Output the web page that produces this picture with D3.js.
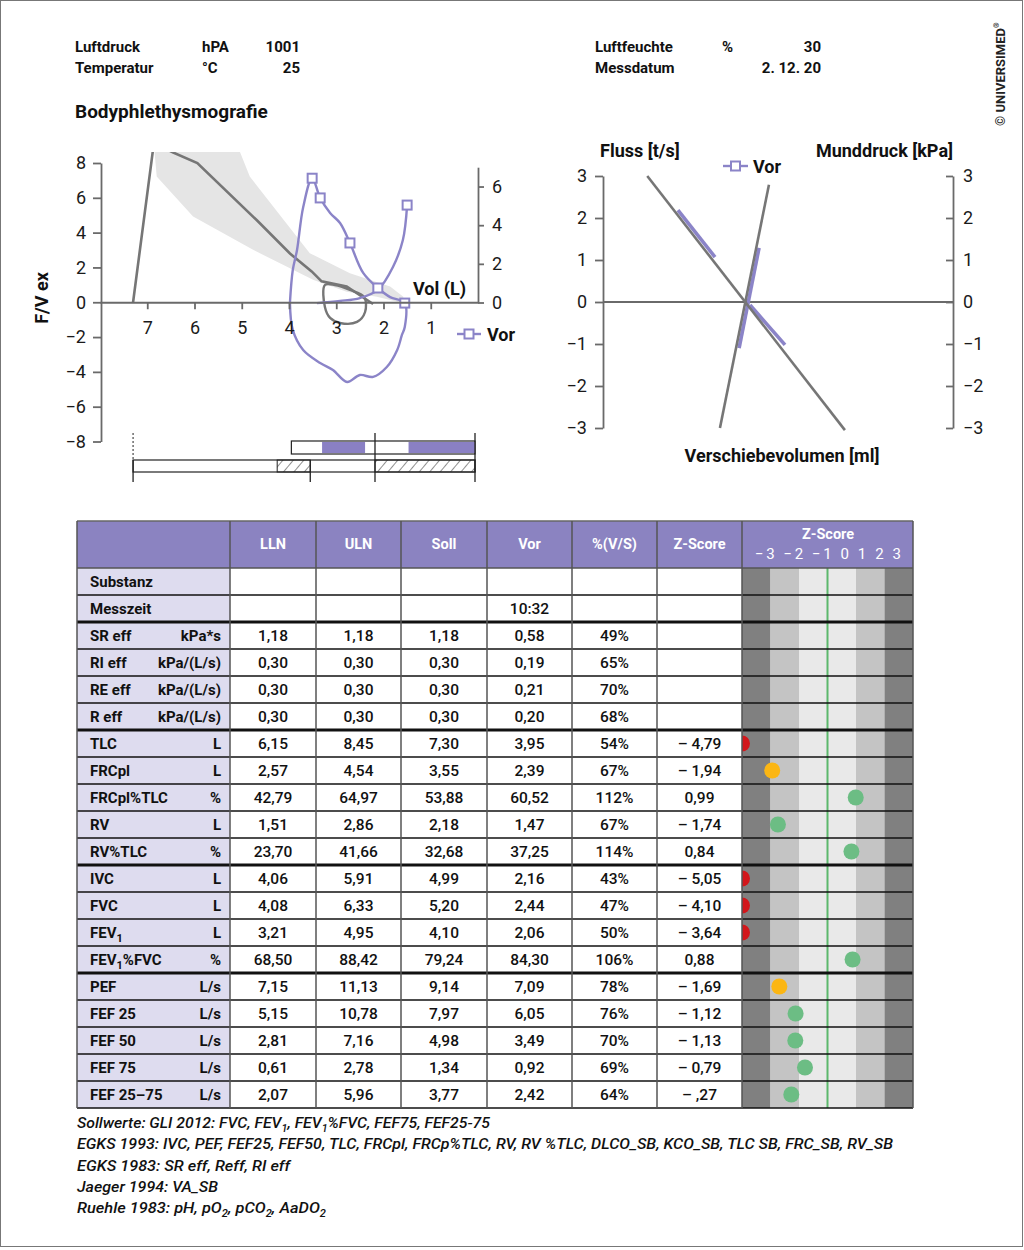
<!DOCTYPE html>
<html><head><meta charset="utf-8">
<script src="https://cdn.jsdelivr.net/npm/d3@7/dist/d3.min.js"></script>
<style>
body{margin:0;background:#fff;}
svg text{font-family:Roboto,"Open Sans","DejaVu Sans",sans-serif;}
</style></head><body>
<svg id="chart" width="1024" height="1250"></svg>
<script>
// ================= DATA =================
const headerLabels = ["Luftdruck","Temperatur","Luftfeuchte","Messdatum"];
const headerUnits  = ["hPA","°C","%",""];
const headerValues = ["1001","25","30","2. 12. 20"];
const sectionTitle = "Bodyphlethysmografie";

// Flow-volume chart
const fvXTicks  = [7,6,5,4,3,2,1];
const fvYTicks  = [-8,-6,-4,-2,0,2,4,6,8];
const fvY2Ticks = [0,2,4,6];
// predicted curve [volume L, flow L/s]
const predCurve = [[7.30,0],[6.86,9.14],[6.45,8.6],[5.94,8.0],[4.68,4.71],[3.98,2.80],[3.52,1.77],[3.31,1.20],[2.78,0.91],[2.22,-0.1]];
const predLoop  = [[3.24,0.99],[3.24,-0.27],[3.13,-0.90],[2.92,-1.19],[2.56,-1.13],[2.39,-0.56],[2.41,0.30],[2.71,0.71],[3.03,0.99]];
// normal range band
const bandUpper = [[6.90,9.4],[5.15,9.4],[4.83,7.22],[3.56,2.82],[2.71,1.67],[1.86,0.90],[1.58,0.32]];
const bandLower = [[6.87,9.4],[6.80,7.22],[6.03,4.92],[4.76,3.01],[3.48,1.28],[2.78,0.61],[2.14,0.32],[1.58,-0.06]];
// measured "Vor" loop [volume L, value on right axis]
const vorLoop = [[3.98,0],[3.92,1.68],[3.83,2.72],[3.70,4.93],[3.51,6.43],[3.34,5.41],[3.13,4.63],[2.92,4.11],[2.71,3.08],[2.43,1.53],[2.12,0.75],[1.86,0.28],[1.55,-0.03],[1.55,-1.27],[1.61,-1.68],[1.71,-2.46],[1.93,-3.34],[2.22,-3.85],[2.50,-3.75],[2.77,-4.11],[3.07,-3.49],[3.34,-3.13],[3.70,-2.46],[3.92,-1.42],[3.98,0]];
const vorBranch = [[3.41,-0.03],[2.92,0.08],[2.50,0.23],[2.12,0.65],[1.80,1.84],[1.59,3.23],[1.50,5.04]];
const vorMarkers = [[3.51,6.43],[3.34,5.41],[2.71,3.08],[2.12,0.75],[1.55,-0.03],[1.50,5.04]];
// volume bars
const barPredLines = [7.30,3.55];
const barFullLines = [2.18,0];
const barPredHatch = [[4.25,3.55],[2.18,0]];
const barVorRange  = [3.95,0];
const barVorFill   = [[3.30,2.39],[1.47,0]];
const barPredRange = [7.30,0];

// Resistance chart
const resTicks = [-3,-2,-1,0,1,2,3];
const flussLine = [[-48.5,3.0],[47.5,-3.05]];
const druckLine = [[10.6,2.79],[-13.2,-3.0]];
const vorFluss1 = [[-33.6,2.19],[-15.6,1.07]];
const vorFluss2 = [[1.4,-0.07],[18.4,-1.02]];
const vorDruck  = [[5.8,1.29],[-3.9,-1.1]];

// Table
const colHeads = ["LLN","ULN","Soll","Vor","%(V/S)","Z-Score"];
const rowNames = ["Substanz","Messzeit","SR eff","RI eff","RE eff","R eff","TLC","FRCpl","FRCpl%TLC","RV","RV%TLC","IVC","FVC","FEV~1","FEV~1%FVC","PEF","FEF 25","FEF 50","FEF 75","FEF 25–75"];
const rowUnits = ["","","kPa*s","kPa/(L/s)","kPa/(L/s)","kPa/(L/s)","L","L","%","L","%","L","L","L","%","L/s","L/s","L/s","L/s","L/s"];
const lln  = [null,null,1.18,0.30,0.30,0.30,6.15,2.57,42.79,1.51,23.70,4.06,4.08,3.21,68.50,7.15,5.15,2.81,0.61,2.07];
const uln  = [null,null,1.18,0.30,0.30,0.30,8.45,4.54,64.97,2.86,41.66,5.91,6.33,4.95,88.42,11.13,10.78,7.16,2.78,5.96];
const soll = [null,null,1.18,0.30,0.30,0.30,7.30,3.55,53.88,2.18,32.68,4.99,5.20,4.10,79.24,9.14,7.97,4.98,1.34,3.77];
const vor  = [null,null,0.58,0.19,0.21,0.20,3.95,2.39,60.52,1.47,37.25,2.16,2.44,2.06,84.30,7.09,6.05,3.49,0.92,2.42];
const messzeit = "10:32";
const pct  = [null,null,49,65,70,68,54,67,112,67,114,43,47,50,106,78,76,70,69,64];
const zText = ["","","","","","","– 4,79","– 1,94","0,99","– 1,74","0,84","– 5,05","– 4,10","– 3,64","0,88","– 1,69","– 1,12","– 1,13","– 0,79","– ,27"];
const zDot  = [null,null,null,null,null,null,-4.79,-1.94,0.99,-1.74,0.84,-5.05,-4.10,-3.64,0.88,-1.69,-1.12,-1.13,-0.79,-1.27];
const zFlag = [null,null,null,null,null,null,"r","y","g","g","g","r","r","r","g","y","g","g","g","g"];
const groupEnds = [1,5,10,14];
const zBands = [[-3,-2],[-2,-1],[-1,1],[1,2],[2,3]];
const zTickText = "−3 −2 −1  0  1  2  3";

const footerLines = [
 "Sollwerte: GLI 2012: FVC, FEV~1, FEV~1%FVC, FEF75, FEF25-75",
 "EGKS 1993: IVC, PEF, FEF25, FEF50, TLC, FRCpl, FRCp%TLC, RV, RV %TLC, DLCO_SB, KCO_SB, TLC SB, FRC_SB, RV_SB",
 "EGKS 1983: SR eff, Reff, RI eff",
 "Jaeger 1994: VA_SB",
 "Ruehle 1983: pH, pO~2, pCO~2, AaDO~2"
];
const footerWidths = [413,816,213,141,249];

// ================= STYLE =================
const PURPLE = "#8b84c8", GRAY = "#767676", AX = "#6a6a6a";
const HEAD = "#8b83c1", LABELBG = "#dedcef";
const zColors = {r:"#d2161b", y:"#fbb614", g:"#6cbd84"};
const bandColors = ["#808080","#c4c4c4","#e9e9e9","#c4c4c4","#808080"];

const svg = d3.select("#chart");
const defs = svg.append("defs");

svg.append("rect").attr("x",0.5).attr("y",0.5).attr("width",1022).attr("height",1246)
  .attr("fill","none").attr("stroke","#777").attr("stroke-width",1);

// helper: text with ~ subscripts
function richText(sel, str, subSize){
  const parts = str.split(/~(\d)/);
  let shifted = false;
  parts.forEach((p,i)=>{
    if(p==="") return;
    if(i%2===1){
      sel.append("tspan").attr("font-size",subSize).attr("dy",4).text(p);
      shifted = true;
    } else {
      const t = sel.append("tspan").text(p);
      if(shifted){ t.attr("dy",-4); shifted=false; }
    }
  });
}

// ---------- header ----------
const hx = [[75,202,300],[75,202,300],[595,722,821],[595,722,821]];
const hy = [52,73,52,73];
headerLabels.forEach((l,i)=>{
  const g = svg.append("g").attr("font-weight","bold").attr("font-size",15).attr("fill","#111");
  g.append("text").attr("x",hx[i][0]).attr("y",hy[i]).text(l);
  if(headerUnits[i]) g.append("text").attr("x",hx[i][1]).attr("y",hy[i]).text(headerUnits[i]);
  g.append("text").attr("x",hx[i][2]).attr("y",hy[i]).attr("text-anchor","end").text(headerValues[i]);
});
svg.append("text").attr("x",75).attr("y",118).attr("font-size",19).attr("font-weight","bold").attr("fill","#111").text(sectionTitle);

// copyright
const cp = svg.append("text").attr("transform","translate(1005,126) rotate(-90)")
  .attr("font-size",12).attr("font-weight","bold").attr("fill","#222");
cp.append("tspan").attr("textLength",98).attr("lengthAdjust","spacingAndGlyphs").text("© UNIVERSIMED");
cp.append("tspan").attr("font-size",7).attr("dy",-6).text("®");

// ---------- Flow-volume chart ----------
const x1 = d3.scaleLinear().domain([8,0]).range([100,478]);
const y1 = d3.scaleLinear().domain([-8,8]).range([441.5,163]);
const y1r = d3.scaleLinear().domain([0,7]).range([302.5,167.2]);

defs.append("clipPath").attr("id","fvclip").append("rect").attr("x",100).attr("y",152).attr("width",378).attr("height",290);
const fv = svg.append("g").attr("clip-path","url(#fvclip)");

const lineL = d3.line().x(d=>x1(d[0])).y(d=>y1(d[1]));
const lineR = d3.line().x(d=>x1(d[0])).y(d=>y1r(d[1])).curve(d3.curveCatmullRom.alpha(0.5));

fv.append("path").attr("d", lineL(bandUpper.concat(bandLower.slice().reverse())) + "Z")
  .attr("fill","#e5e5e5").attr("stroke","none");

function styleAxis(g){
  g.selectAll(".domain, .tick line").attr("stroke",AX).attr("stroke-width",1.8);
  g.selectAll("text").attr("font-family","'Open Sans',Roboto,sans-serif").attr("font-size",18).attr("fill","#1a1a1a");
}
const fmt = d3.format("d");
svg.append("g").attr("transform",`translate(101,0)`)
  .call(d3.axisLeft(y1).tickValues(fvYTicks).tickSize(8).tickSizeOuter(0).tickPadding(7).tickFormat(fmt)).call(styleAxis);
svg.append("g").attr("transform",`translate(478,0)`)
  .call(d3.axisRight(y1r).tickValues(fvY2Ticks).tickSize(6).tickSizeOuter(0).tickPadding(8).tickFormat(fmt)).call(styleAxis);
svg.append("g").attr("transform",`translate(0,${y1(0)})`)
  .call(d3.axisBottom(x1).tickValues(fvXTicks).tickSize(7).tickSizeOuter(0).tickPadding(12).tickFormat(fmt)).call(styleAxis);

fv.append("path").attr("d",lineL(predCurve)).attr("fill","none").attr("stroke",GRAY).attr("stroke-width",2.6);
fv.append("path").attr("d",d3.line().x(d=>x1(d[0])).y(d=>y1(d[1])).curve(d3.curveCatmullRomClosed)(predLoop))
  .attr("fill","none").attr("stroke",GRAY).attr("stroke-width",2.4);
fv.append("path").attr("d",lineR(vorLoop)).attr("fill","none").attr("stroke",PURPLE).attr("stroke-width",2.4);
fv.append("path").attr("d",lineR(vorBranch)).attr("fill","none").attr("stroke",PURPLE).attr("stroke-width",2.4);
fv.selectAll("rect.mk").data(vorMarkers).enter().append("rect").attr("class","mk")
  .attr("x",d=>x1(d[0])-4.5).attr("y",d=>y1r(d[1])-4.5).attr("width",9).attr("height",9)
  .attr("fill","#fff").attr("stroke",PURPLE).attr("stroke-width",2);

svg.append("text").attr("transform","translate(48,298) rotate(-90)").attr("text-anchor","middle")
  .attr("font-size",18).attr("font-weight","bold").attr("fill","#111").text("F/V ex");
svg.append("text").attr("x",413).attr("y",295).attr("font-size",18).attr("font-weight","bold").attr("fill","#111").text("Vol (L)");
// legend
svg.append("line").attr("x1",457).attr("x2",481).attr("y1",334).attr("y2",334).attr("stroke",PURPLE).attr("stroke-width",2.4);
svg.append("rect").attr("x",464.5).attr("y",329.5).attr("width",9).attr("height",9).attr("fill","#fff").attr("stroke",PURPLE).attr("stroke-width",2);
svg.append("text").attr("x",487).attr("y",341).attr("font-size",18).attr("font-weight","bold").attr("fill","#111").text("Vor");

// volume bars
const pat = defs.append("pattern").attr("id","hatch").attr("patternUnits","userSpaceOnUse")
  .attr("width",8).attr("height",8).attr("patternTransform","rotate(40)");
pat.append("line").attr("x1",0).attr("x2",0).attr("y1",0).attr("y2",8).attr("stroke","#222").attr("stroke-width",1);
const bars = svg.append("g");
bars.append("rect").attr("x",x1(barVorRange[0])).attr("y",441).attr("width",x1(barVorRange[1])-x1(barVorRange[0])-3).attr("height",13)
  .attr("fill","#fff").attr("stroke","#222").attr("stroke-width",1.2);
bars.selectAll("rect.vf").data(barVorFill).enter().append("rect").attr("class","vf")
  .attr("x",d=>x1(d[0])).attr("y",442).attr("width",d=>Math.min(x1(d[1]),475)-x1(d[0])).attr("height",11).attr("fill","#8a80c4");
bars.append("rect").attr("x",x1(barPredRange[0])).attr("y",460).attr("width",x1(barPredRange[1])-x1(barPredRange[0])-3).attr("height",12)
  .attr("fill","#fff").attr("stroke","#222").attr("stroke-width",1.2);
bars.selectAll("rect.ph").data(barPredHatch).enter().append("rect").attr("class","ph")
  .attr("x",d=>x1(d[0])).attr("y",460).attr("width",d=>Math.min(x1(d[1]),475)-x1(d[0])).attr("height",12)
  .attr("fill","url(#hatch)").attr("stroke","#222").attr("stroke-width",1);
bars.append("line").attr("x1",x1(barPredLines[0])).attr("x2",x1(barPredLines[0])).attr("y1",433).attr("y2",460)
  .attr("stroke","#222").attr("stroke-width",1).attr("stroke-dasharray","2,2");
bars.selectAll("line.pl").data(barPredLines).enter().append("line").attr("class","pl")
  .attr("x1",d=>x1(d)).attr("x2",d=>x1(d)).attr("y1",460).attr("y2",482).attr("stroke","#222").attr("stroke-width",1.3);
bars.selectAll("line.fl").data(barFullLines).enter().append("line").attr("class","fl")
  .attr("x1",d=>Math.min(x1(d),475)).attr("x2",d=>Math.min(x1(d),475)).attr("y1",433).attr("y2",482).attr("stroke","#222").attr("stroke-width",1.3);

// ---------- Resistance chart ----------
const x2 = d3.scaleLinear().domain([-70,100]).range([603,953]);
const y2 = d3.scaleLinear().domain([-3,3]).range([428,176]);
svg.append("g").attr("transform","translate(603,0)")
  .call(d3.axisLeft(y2).tickValues(resTicks).tickSize(8).tickSizeOuter(0).tickPadding(8).tickFormat(fmt)).call(styleAxis);
svg.append("g").attr("transform","translate(953,0)")
  .call(d3.axisRight(y2).tickValues(resTicks).tickSize(-7).tickSizeOuter(0).tickPadding(10).tickFormat(fmt)).call(styleAxis);
svg.append("line").attr("x1",x2(-70)).attr("x2",x2(100)).attr("y1",y2(0)).attr("y2",y2(0)).attr("stroke",AX).attr("stroke-width",1.8);
const line2 = d3.line().x(d=>x2(d[0])).y(d=>y2(d[1]));
[vorFluss1,vorFluss2,vorDruck].forEach(s=>{
  svg.append("path").attr("d",line2(s)).attr("fill","none").attr("stroke",PURPLE).attr("stroke-width",3.6);
});
[flussLine,druckLine].forEach(s=>{
  svg.append("path").attr("d",line2(s)).attr("fill","none").attr("stroke",GRAY).attr("stroke-width",2.6);
});
svg.append("text").attr("x",600).attr("y",157).attr("font-size",18).attr("font-weight","bold").attr("fill","#111").text("Fluss [t/s]");
svg.append("text").attr("x",953).attr("y",157).attr("text-anchor","end").attr("font-size",18).attr("font-weight","bold").attr("fill","#111").text("Munddruck [kPa]");
svg.append("text").attr("x",782).attr("y",462).attr("text-anchor","middle").attr("font-size",18).attr("font-weight","bold").attr("fill","#111").text("Verschiebevolumen [ml]");
svg.append("line").attr("x1",723).attr("x2",748).attr("y1",166).attr("y2",166).attr("stroke",PURPLE).attr("stroke-width",2.4);
svg.append("rect").attr("x",731).attr("y",161.5).attr("width",9).attr("height",9).attr("fill","#fff").attr("stroke",PURPLE).attr("stroke-width",2);
svg.append("text").attr("x",753).attr("y",173).attr("font-size",18).attr("font-weight","bold").attr("fill","#111").text("Vor");

// ---------- Table ----------
const colEdges = [77,230,316,401,487,572,657,742,913];
const tTop = 521, hBot = 568, tBot = 1108;
const rowY = d3.scaleBand().domain(d3.range(rowNames.length)).range([hBot,tBot]);
const zx = d3.scaleLinear().domain([-3,3]).range([742,913]);
const tb = svg.append("g");
tb.append("rect").attr("x",77).attr("y",tTop).attr("width",913-77).attr("height",hBot-tTop).attr("fill",HEAD);
tb.append("rect").attr("x",77).attr("y",hBot).attr("width",230-77).attr("height",tBot-hBot).attr("fill",LABELBG);
tb.selectAll("rect.zb").data(zBands).enter().append("rect").attr("class","zb")
  .attr("x",d=>zx(d[0])).attr("y",hBot).attr("width",d=>zx(d[1])-zx(d[0])).attr("height",tBot-hBot)
  .attr("fill",(d,i)=>bandColors[i]);
tb.append("line").attr("x1",zx(0)).attr("x2",zx(0)).attr("y1",hBot).attr("y2",tBot).attr("stroke","#5cb86c").attr("stroke-width",2);
defs.append("clipPath").attr("id","zclip").append("rect").attr("x",742).attr("y",hBot).attr("width",171).attr("height",tBot-hBot);
const dotIdx = d3.range(rowNames.length).filter(i=>zDot[i]!==null);
tb.append("g").attr("clip-path","url(#zclip)").selectAll("circle").data(dotIdx).enter().append("circle")
  .attr("cx",i=>zx(Math.max(-3,Math.min(3,zDot[i])))).attr("cy",i=>rowY(i)+rowY.bandwidth()/2)
  .attr("r",8).attr("fill",i=>zColors[zFlag[i]]);

// grid lines
const hLines = d3.range(rowNames.length+1).map(i=>hBot+i*rowY.bandwidth());
tb.selectAll("line.h").data(hLines).enter().append("line").attr("class","h")
  .attr("x1",77).attr("x2",913).attr("y1",d=>d).attr("y2",d=>d)
  .attr("stroke",(d,i)=> i===0 ? "#555" : "#111")
  .attr("stroke-width",(d,i)=> groupEnds.includes(i-1) ? 3 : 1.3);
tb.append("line").attr("x1",77).attr("x2",913).attr("y1",tTop).attr("y2",tTop).attr("stroke","#666").attr("stroke-width",1.5);
tb.selectAll("line.v").data(colEdges).enter().append("line").attr("class","v")
  .attr("x1",d=>d).attr("x2",d=>d).attr("y1",tTop).attr("y2",tBot).attr("stroke","#555").attr("stroke-width",1.5);

// header text
colHeads.forEach((h,i)=>{
  tb.append("text").attr("x",(colEdges[i+1]+colEdges[i+2])/2).attr("y",549).attr("text-anchor","middle")
    .attr("font-size",14.5).attr("font-weight","bold").attr("fill","#fff").text(h);
});
tb.append("text").attr("x",828).attr("y",539).attr("text-anchor","middle").attr("font-size",14.5).attr("font-weight","bold").attr("fill","#fff").text("Z-Score");
tb.append("text").attr("x",828).attr("y",559).attr("text-anchor","middle").attr("font-size",15).attr("fill","#fff")
  .attr("textLength",146).attr("lengthAdjust","spacing").text(zTickText);

// rows
const num = v => v===null ? "" : d3.format(".2f")(v).replace(".",",");
rowNames.forEach((n,i)=>{
  const cy = rowY(i)+rowY.bandwidth()/2+5.5;
  const t = tb.append("text").attr("x",90).attr("y",cy).attr("font-size",15).attr("font-weight","bold").attr("fill","#111");
  richText(t,n,11);
  if(rowUnits[i]) tb.append("text").attr("x",221).attr("y",cy).attr("text-anchor","end").attr("font-size",15).attr("font-weight","bold").attr("fill","#111").text(rowUnits[i]);
  const vals = [num(lln[i]),num(uln[i]),num(soll[i]), i===1?messzeit:num(vor[i]), pct[i]===null?"":pct[i]+"%", zText[i]];
  vals.forEach((v,j)=>{
    if(!v) return;
    tb.append("text").attr("x",(colEdges[j+1]+colEdges[j+2])/2).attr("y",cy).attr("text-anchor","middle")
      .attr("font-size",15.5).attr("font-weight",500).attr("fill","#111").text(v);
  });
});

// footer
const fy = [1128,1149,1171,1192,1213];
footerLines.forEach((l,i)=>{
  const t = svg.append("text").attr("x",77).attr("y",fy[i]).attr("font-size",15.5).attr("font-weight",500)
    .attr("font-style","italic").attr("fill","#111")
    .attr("textLength",footerWidths[i]).attr("lengthAdjust","spacingAndGlyphs");
  richText(t,l,10.5);
});
</script></body></html>
